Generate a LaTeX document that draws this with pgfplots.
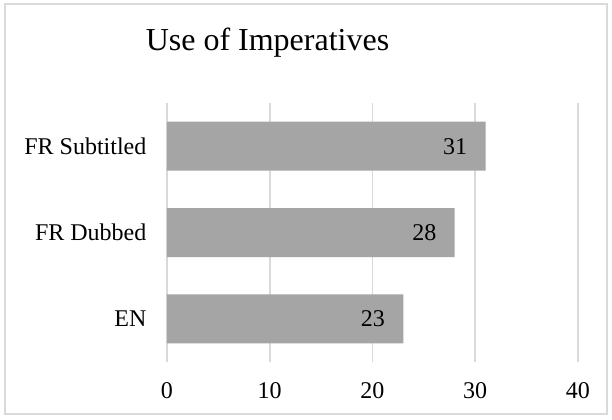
\documentclass[border=0pt]{standalone}
\usepackage{fontspec}
\setmainfont{Liberation Serif}
\usepackage{pgfplots}
\pgfplotsset{compat=1.18}
\definecolor{barfill}{HTML}{A5A5A5}
\definecolor{gridgray}{HTML}{D9D9D9}
\begin{document}
\begin{tikzpicture}
% page extent and chart frame
\path (-83.5pt,-28.5pt) rectangle (222.5pt,181pt);
\draw[gridgray, line width=0.8pt] (-81pt,-26pt) rectangle (220pt,179pt);
\begin{axis}[
  scale only axis,
  width=205.5pt, height=129.5pt,
  xbar, bar width=24.5pt,
  xmin=0, xmax=40, ymin=-0.5, ymax=2.5,
  xtick={0,10,20,30,40},
  ytick={0,1,2},
  yticklabels={EN,FR Dubbed,FR Subtitled},
  /pgf/number format/assume math mode=true,
  tick label style={font=\fontsize{12}{14}\selectfont},
  xticklabel style={yshift=-6.5pt},
  yticklabel style={xshift=-2.5pt},
  axis line style={draw=none},
  tick style={draw=none},
  xmajorgrids,
  major grid style={gridgray, line width=0.8pt},
  nodes near coords,
  every node near coord/.append style={anchor=east, xshift=-9pt, inner sep=0pt, font=\fontsize{12}{14}\selectfont, text=black},
]
\addplot[fill=barfill, draw=none] coordinates {(23,0) (28,1) (31,2)};
\end{axis}
\node[anchor=base, font=\fontsize{16}{19}\selectfont] at (50.25pt,156pt) {Use of Imperatives};
\end{tikzpicture}
\end{document}
